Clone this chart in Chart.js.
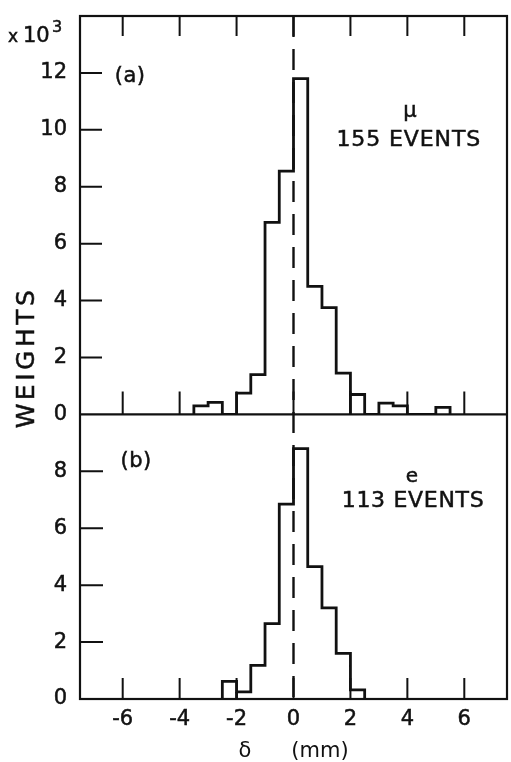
<!DOCTYPE html>
<html><head><meta charset="utf-8">
<script src="https://cdn.jsdelivr.net/npm/chart.js@4.4.1/dist/chart.umd.min.js"></script>
<style>html,body{margin:0;padding:0;background:#fff;}canvas{display:block;}</style>
</head><body>
<canvas id="c" width="511" height="762"></canvas>
<script>
// ---- data ----
const binWidth = 0.5;
const muBinStarts = [-3.5, -3.0, -2.5, -2.0, -1.5, -1.0, -0.5, 0.0, 0.5, 1.0, 1.5, 2.0, 2.5, 3.0, 3.5, 4.0, 4.5, 5.0];
const muWeights   = [0.30, 0.42, 0.00, 0.75, 1.40, 6.75, 8.55, 11.8, 4.50, 3.75, 1.45, 0.70, 0.00, 0.40, 0.30, 0.00, 0.00, 0.25];
const eBinStarts  = [-2.5, -2.0, -1.5, -1.0, -0.5, 0.0, 0.5, 1.0, 1.5, 2.0];
const eWeights    = [0.62, 0.25, 1.18, 2.65, 6.85, 8.80, 4.65, 3.20, 1.60, 0.32];
// bin edges where the drawing closes a small box down to the baseline
const muInnerEdges = [2.0];
const eInnerEdges  = [-2.0];
const xTickValues   = [-6, -4, -2, 0, 2, 4, 6];
const muTickValues  = [2, 4, 6, 8, 10, 12];
const eTickValues   = [2, 4, 6, 8];

function stepPoints(starts, weights) {
  const pts = [{x: starts[0], y: 0}];
  starts.forEach((s, i) => pts.push({x: s, y: weights[i]}));
  pts.push({x: starts[starts.length - 1] + binWidth, y: 0});
  return pts;
}

const FONT = "'DejaVu Sans', 'Liberation Sans', sans-serif";
const INK = '#111';

const decor = {
  id: 'decor',
  afterDatasetsDraw(chart) {
    const ctx = chart.ctx;
    const a = chart.chartArea;
    const sx = chart.scales.x, yt = chart.scales.yTop, yb = chart.scales.yBot;
    ctx.save();
    ctx.strokeStyle = INK;
    ctx.lineCap = 'butt';
    // frame and divider
    ctx.lineWidth = 2.2;
    ctx.strokeRect(a.left, a.top, a.right - a.left, a.bottom - a.top);
    ctx.beginPath();
    ctx.moveTo(a.left, yt.bottom); ctx.lineTo(a.right, yt.bottom);
    ctx.stroke();
    // inner box edges of the histograms
    ctx.lineWidth = 2.8;
    ctx.beginPath();
    const inner = (edges, starts, weights, ys) => edges.forEach(e => {
      const i = starts.findIndex(s => Math.abs(s - e) < 1e-9);
      const h = Math.min(weights[i], i > 0 ? weights[i - 1] : 0);
      const px = sx.getPixelForValue(e);
      ctx.moveTo(px, ys.getPixelForValue(0)); ctx.lineTo(px, ys.getPixelForValue(h));
    });
    inner(muInnerEdges, muBinStarts, muWeights, yt);
    inner(eInnerEdges, eBinStarts, eWeights, yb);
    ctx.stroke();
    // inward ticks
    ctx.lineWidth = 2;
    ctx.beginPath();
    xTickValues.forEach(v => {
      const px = sx.getPixelForValue(v);
      ctx.moveTo(px, a.top); ctx.lineTo(px, a.top + 20);
      ctx.moveTo(px, yt.bottom); ctx.lineTo(px, yt.bottom - 23);
      ctx.moveTo(px, a.bottom); ctx.lineTo(px, a.bottom - 21);
    });
    muTickValues.forEach(v => {
      const py = yt.getPixelForValue(v);
      ctx.moveTo(a.left, py); ctx.lineTo(a.left + 22, py);
    });
    eTickValues.forEach(v => {
      const py = yb.getPixelForValue(v);
      ctx.moveTo(a.left, py); ctx.lineTo(a.left + 23, py);
    });
    ctx.stroke();
    // dashed line at delta = 0
    const x0 = sx.getPixelForValue(0);
    ctx.lineWidth = 2.4;
    ctx.setLineDash([21, 12]);
    ctx.beginPath();
    ctx.moveTo(x0, a.top); ctx.lineTo(x0, a.bottom);
    ctx.stroke();
    ctx.setLineDash([]);

    // texts
    ctx.fillStyle = INK;
    ctx.lineWidth = 0.5;
    const draw = (txt, x, y) => { ctx.fillText(txt, x, y); ctx.strokeText(txt, x, y); };
    const put = (txt, xv, yScale, yv, size, spacing, baseline) => {
      ctx.font = size + 'px ' + FONT;
      ctx.textAlign = 'center';
      ctx.textBaseline = baseline || 'middle';
      if ('letterSpacing' in ctx) ctx.letterSpacing = (spacing || 0) + 'px';
      draw(txt, sx.getPixelForValue(xv), yScale.getPixelForValue(yv));
      if ('letterSpacing' in ctx) ctx.letterSpacing = '0px';
    };
    put('(a)', -5.74, yt, 11.89, 21, 0.5);
    put('\u03bc', 4.09, yt, 10.45, 21, 0, 'alphabetic');
    put('155 EVENTS', 4.05, yt, 9.64, 22, 0.9);
    put('(b)', -5.53, yb, 8.36, 21, 0.5);
    put('e', 4.16, yb, 7.63, 20, 0, 'alphabetic');
    put('113 EVENTS', 4.2, yb, 6.96, 22, 0.7);

    // x10^3 multiplier
    ctx.textAlign = 'left';
    ctx.textBaseline = 'alphabetic';
    ctx.font = '17px ' + FONT;
    draw('x', 8, 42);
    ctx.font = '21px ' + FONT;
    draw('10', 23, 42);
    ctx.font = '16px ' + FONT;
    draw('3', 52, 32);

    // y title
    ctx.save();
    ctx.translate(27, (a.top + a.bottom) / 2);
    ctx.rotate(-Math.PI / 2);
    ctx.textAlign = 'center';
    ctx.textBaseline = 'middle';
    ctx.font = '25px ' + FONT;
    if ('letterSpacing' in ctx) ctx.letterSpacing = '3.5px';
    draw('WEIGHTS', 0, 0);
    ctx.restore();
    ctx.restore();
  }
};

const noPad = s => { s.paddingTop = 0; s.paddingBottom = 0; s.paddingLeft = 0; s.paddingRight = 0; };
const tickFont = {family: FONT, size: 21};
const tickCommon = {font: tickFont, color: INK, autoSkip: false, textStrokeColor: INK, textStrokeWidth: 0.5};
new Chart(document.getElementById('c'), {
  type: 'line',
  data: {
    datasets: [
      {data: stepPoints(muBinStarts, muWeights), xAxisID: 'x', yAxisID: 'yTop',
       stepped: 'before', borderColor: INK, borderWidth: 2.8, pointRadius: 0, fill: false},
      {data: stepPoints(eBinStarts, eWeights), xAxisID: 'x', yAxisID: 'yBot',
       stepped: 'before', borderColor: INK, borderWidth: 2.8, pointRadius: 0, fill: false}
    ]
  },
  options: {
    responsive: false, animation: false, devicePixelRatio: 1,
    layout: {padding: {top: 16, right: 4, left: 0, bottom: 0}},
    plugins: {legend: {display: false}, tooltip: {enabled: false}},
    scales: {
      x: {type: 'linear', position: 'bottom', min: -7.5, max: 7.5,
          grid: {display: false, drawTicks: false}, border: {display: false},
          ticks: {...tickCommon, stepSize: 2, includeBounds: false, padding: 8, maxRotation: 0},
          title: {display: true, text: '\u03b4      (mm)', color: INK,
                  font: {family: FONT, size: 21, lineHeight: 1}, padding: 0},
          afterFit(s) { s.height = 63; noPad(s); }},
      yTop: {type: 'linear', position: 'left', stack: 'panels', stackWeight: 14, weight: 1,
             min: 0, max: 14,
             grid: {display: false, drawTicks: false}, border: {display: false},
             ticks: {...tickCommon, stepSize: 2, padding: 13,
                     callback: v => (v === 14 ? '' : v)},
             afterFit(s) { s.width = 80; noPad(s); }},
      yBot: {type: 'linear', position: 'left', stack: 'panels', stackWeight: 10, weight: 0,
             min: 0, max: 10,
             grid: {display: false, drawTicks: false}, border: {display: false},
             ticks: {...tickCommon, stepSize: 2, padding: 13,
                     callback: v => (v === 10 ? '' : v)},
             afterFit(s) { s.width = 80; noPad(s); }}
    }
  },
  plugins: [decor]
});
</script>
</body></html>
